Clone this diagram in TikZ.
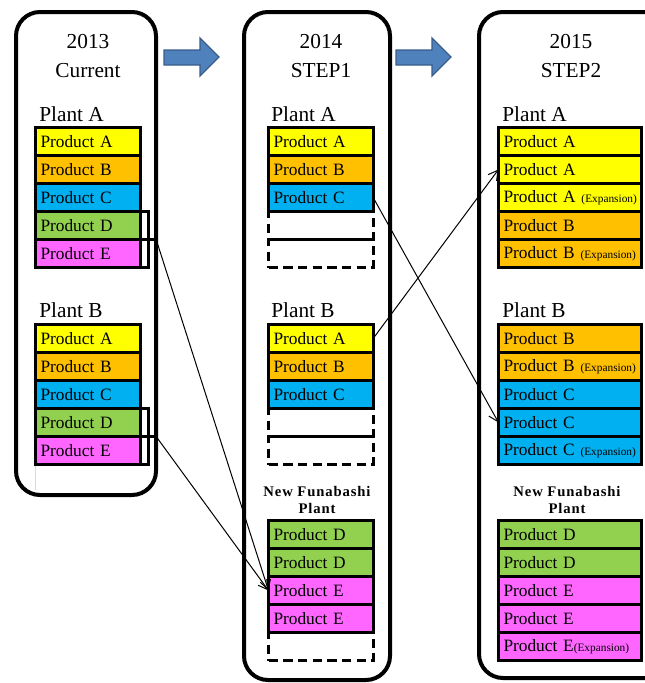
\documentclass[tikz,border=0pt]{standalone}
\usepackage{fontspec}
\setmainfont{Liberation Serif}
\usetikzlibrary{arrows.meta}

\definecolor{prodA}{RGB}{255,255,0}
\definecolor{prodB}{RGB}{255,192,0}
\definecolor{prodC}{RGB}{0,176,240}
\definecolor{prodD}{RGB}{146,208,80}
\definecolor{prodE}{RGB}{255,102,255}
\definecolor{arrowfill}{RGB}{79,129,189}
\definecolor{arrowline}{RGB}{56,93,138}

\newcommand{\expn}{{\fontsize{8.5}{10}\selectfont(Expansion)}}

\tikzset{
  prod/.style={draw, line width=2.25pt, outer sep=0pt, minimum height=21pt,
    text width=71pt, inner xsep=3.75pt, inner ysep=0pt, align=left,
    anchor=north west, font=\fontsize{13}{15}\selectfont},
  wideprod/.style={prod, text width=99.75pt},
  slot/.style={prod, dashed, dash pattern=on 7pt off 4pt},
  yearbox/.style={line width=3pt, rounded corners=18pt},
  yeartitle/.style={align=center, font=\fontsize{16}{21.75}\selectfont},
  plant/.style={anchor=base west, inner sep=0pt, font=\fontsize{16}{18}\selectfont},
  nflabel/.style={align=center, inner sep=0pt,
    font=\fontsize{11}{12.75}\selectfont\bfseries\addfontfeatures{LetterSpace=6}},
  bigarrow/.style={fill=arrowfill, draw=arrowline, line width=1pt},
  bracket/.style={line width=2.25pt},
  link/.style={line width=0.75pt, -{Straight Barb[length=7pt, width=8pt]}}
}

\begin{document}
\begin{tikzpicture}[x=0.75pt, y=-0.75pt]
  \useasboundingbox (0,0) rectangle (645,683);

  % Year frames
  \draw[yearbox] (16,12) rectangle (156,495);
  \draw[yearbox] (244,12) rectangle (390,680);
  \draw[yearbox] (479,12) rectangle (720,678);
  \draw[gray!30, line width=0.75pt] (35,463) -- (35,490);

  \node[yeartitle] (t1) at (88,56) {2013\\Current};
  \node[yeartitle] (t2) at (321,56) {2014\\STEP1};
  \node[yeartitle] (t3) at (571,56) {2015\\STEP2};

  % Block arrows between years
  \foreach \x in {164,396}
    \draw[bigarrow] (\x,50) -- ++(36,0) -- ++(0,-12) -- ++(19,19) -- ++(-19,19)
      -- ++(0,-11) -- ++(-36,0) -- cycle;

  % 2013
  \node[plant] (p1a) at (39,121) {Plant A};
  \foreach \t/\c [count=\i] in {Product A/prodA, Product B/prodB, Product C/prodC,
      Product D/prodD, Product E/prodE}
    \node[prod, fill=\c] (c1a\i) at (35.5,{127.5+28*(\i-1)}) {\t};
  \node[plant] (p1b) at (39,317) {Plant B};
  \foreach \t/\c [count=\i] in {Product A/prodA, Product B/prodB, Product C/prodC,
      Product D/prodD, Product E/prodE}
    \node[prod, fill=\c] (c1b\i) at (35.5,{324.5+28*(\i-1)}) {\t};

  \draw[bracket] (c1a4.north east) -- ++(8,0) |- (c1a5.south east);
  \draw[bracket] (c1a4.south east) -- ++(16,0) coordinate (tickA);
  \draw[bracket] (c1b4.north east) -- ++(8,0) |- (c1b5.south east);
  \draw[bracket] (c1b4.south east) -- ++(16,0) coordinate (tickB);

  % 2014
  \node[plant] (p2a) at (271,121) {Plant A};
  \foreach \t/\c [count=\i] in {Product A/prodA, Product B/prodB, Product C/prodC}
    \node[prod, fill=\c] (c2a\i) at (268.5,{127.5+28*(\i-1)}) {\t};
  \node[slot] (c2a4) at (268.5,211.5) {};
  \node[slot] (c2a5) at (268.5,239.5) {};
  \node[plant] (p2b) at (271,317) {Plant B};
  \foreach \t/\c [count=\i] in {Product A/prodA, Product B/prodB, Product C/prodC}
    \node[prod, fill=\c] (c2b\i) at (268.5,{324.5+28*(\i-1)}) {\t};
  \node[slot] (c2b4) at (268.5,408.5) {};
  \node[slot] (c2b5) at (268.5,436.5) {};
  \node[nflabel] (nf2) at (317,500) {New Funabashi\\Plant};
  \foreach \t/\c [count=\i] in {Product D/prodD, Product D/prodD, Product E/prodE,
      Product E/prodE}
    \node[prod, fill=\c] (c2n\i) at (268.5,{520.5+28*(\i-1)}) {\t};
  \node[slot] (c2n5) at (268.5,632.5) {};

  % 2015
  \node[plant] (p3a) at (502,121) {Plant A};
  \foreach \t/\c [count=\i] in {Product A/prodA, Product A/prodA,
      Product A \expn/prodA, Product B/prodB, Product B \expn/prodB}
    \node[wideprod, fill=\c] (c3a\i) at (498.5,{127.5+28*(\i-1)}) {\mbox{\t}};
  \node[plant] (p3b) at (502,317) {Plant B};
  \foreach \t/\c [count=\i] in {Product B/prodB, Product B \expn/prodB,
      Product C/prodC, Product C/prodC, Product C \expn/prodC}
    \node[wideprod, fill=\c] (c3b\i) at (498.5,{324.5+28*(\i-1)}) {\mbox{\t}};
  \node[nflabel] (nf3) at (567,500) {New Funabashi\\Plant};
  \foreach \t/\c [count=\i] in {Product D/prodD, Product D/prodD, Product E/prodE,
      Product E/prodE, Product E\expn/prodE}
    \node[wideprod, fill=\c] (c3n\i) at (498.5,{520.5+28*(\i-1)}) {\mbox{\t}};

  % Transfers
  \draw[link] (tickA) -- (c2n3.west);
  \draw[link] (tickB) -- (c2n3.west);
  \draw[link] (c2a3.east) -- (c3b4.west);
  \draw[link] (c2b1.east) -- (c3a2.west);
\end{tikzpicture}
\end{document}
